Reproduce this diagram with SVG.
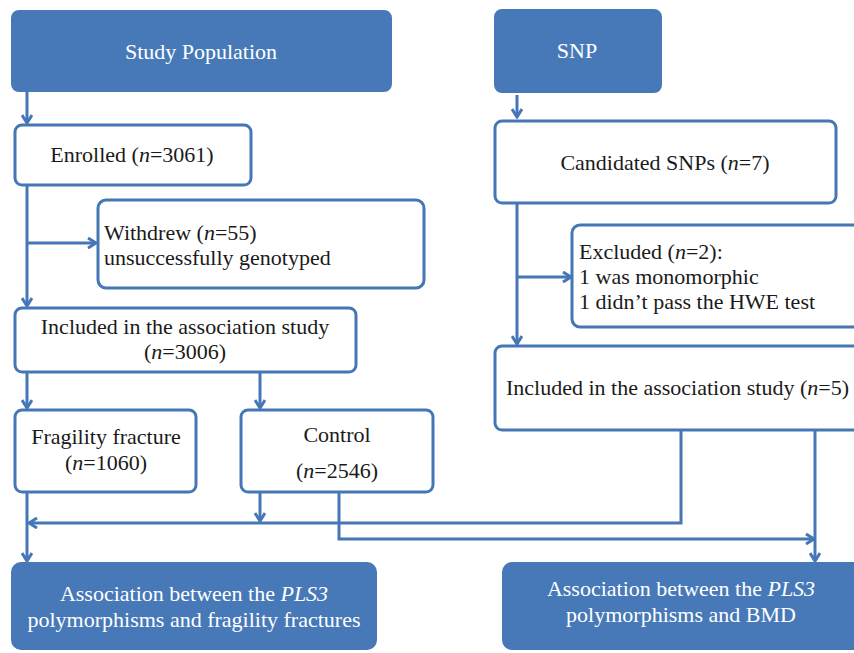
<svg xmlns="http://www.w3.org/2000/svg" width="854" height="653" viewBox="0 0 854 653">
<defs>
<style>
.hd{fill:#4779B8;stroke:#4779B8;stroke-width:2}
.bx{fill:#fff;stroke:#4577B6;stroke-width:3}
.t{fill:#1a1a1a}
.w{fill:#fff}
.c{fill:none;stroke:#4577B6;stroke-width:3}
</style>
<marker id="ah" viewBox="0 0 12 12" markerWidth="12" markerHeight="12" refX="10" refY="6" orient="auto" markerUnits="userSpaceOnUse">
<path d="M2,1 L10,6 L2,11" fill="none" stroke="#4577B6" stroke-width="3"/>
</marker>
</defs>
<rect width="854" height="653" fill="#fff"/>
<g id="connectors">
<path class="c" d="M27,91 V123" marker-end="url(#ah)"/>
<path class="c" d="M517,95 V117" marker-end="url(#ah)"/>
<path class="c" d="M27,185 V306" marker-end="url(#ah)"/>
<path class="c" d="M27,243 H96" marker-end="url(#ah)"/>
<path class="c" d="M517,203 V344" marker-end="url(#ah)"/>
<path class="c" d="M517,277 H571" marker-end="url(#ah)"/>
<path class="c" d="M27,372 V408" marker-end="url(#ah)"/>
<path class="c" d="M260,372 V408" marker-end="url(#ah)"/>
<path class="c" d="M260,492 V521" marker-end="url(#ah)"/>
<path class="c" d="M681,430 V523 H29" marker-end="url(#ah)"/>
<path class="c" d="M27,492 V561" marker-end="url(#ah)"/>
<path class="c" d="M339,492 V539 H814" marker-end="url(#ah)"/>
<path class="c" d="M815,430 V561" marker-end="url(#ah)"/>
</g>
<g font-family="Liberation Serif, Times New Roman, serif" font-size="22">
<g id="study-population">
<rect class="hd" x="12" y="11" width="379" height="80" rx="7"/>
<text class="w" x="201" y="59" text-anchor="middle">Study Population</text>
</g>
<g id="snp">
<rect class="hd" x="495" y="10" width="166" height="82" rx="7"/>
<text class="w" x="577" y="58" text-anchor="middle">SNP</text>
</g>
<g id="enrolled">
<rect class="bx" x="15" y="125" width="236" height="60" rx="7"/>
<text class="t" x="132" y="162" text-anchor="middle">Enrolled (<tspan font-style="italic">n</tspan>=3061)</text>
</g>
<g id="candidated">
<rect class="bx" x="495" y="121" width="341" height="82" rx="7"/>
<text class="t" x="665" y="170" text-anchor="middle">Candidated SNPs (<tspan font-style="italic">n</tspan>=7)</text>
</g>
<g id="withdrew">
<rect class="bx" x="98" y="200" width="326" height="88" rx="8"/>
<text class="t" x="104" y="240">Withdrew (<tspan font-style="italic">n</tspan>=55)</text>
<text class="t" x="104" y="265">unsuccessfully genotyped</text>
</g>
<g id="excluded">
<rect class="bx" x="572" y="225" width="300" height="102" rx="8"/>
<text class="t" x="579" y="259">Excluded (<tspan font-style="italic">n</tspan>=2):</text>
<text class="t" x="579" y="284">1 was monomorphic</text>
<text class="t" x="579" y="309">1 didn’t pass the HWE test</text>
</g>
<g id="included-pop">
<rect class="bx" x="15" y="308" width="341" height="64" rx="7"/>
<text class="t" x="185" y="334" text-anchor="middle">Included in the association study</text>
<text class="t" x="185" y="359" text-anchor="middle">(<tspan font-style="italic">n</tspan>=3006)</text>
</g>
<g id="included-snp">
<rect class="bx" x="495" y="346" width="380" height="84" rx="7"/>
<text class="t" x="506" y="395">Included in the association study (<tspan font-style="italic">n</tspan>=5)</text>
</g>
<g id="fragility">
<rect class="bx" x="15" y="410" width="181" height="82" rx="7"/>
<text class="t" x="106" y="444" text-anchor="middle">Fragility fracture</text>
<text class="t" x="106" y="470" text-anchor="middle">(<tspan font-style="italic">n</tspan>=1060)</text>
</g>
<g id="control">
<rect class="bx" x="241" y="410" width="192" height="82" rx="7"/>
<text class="t" x="337" y="442" text-anchor="middle">Control</text>
<text class="t" x="337" y="478" text-anchor="middle">(<tspan font-style="italic">n</tspan>=2546)</text>
</g>
<g id="assoc-fracture">
<rect class="hd" x="12" y="563" width="364" height="86" rx="9"/>
<text class="w" x="194" y="601" text-anchor="middle">Association between the <tspan font-style="italic">PLS3</tspan></text>
<text class="w" x="194" y="627" text-anchor="middle">polymorphisms and fragility fractures</text>
</g>
<g id="assoc-bmd">
<rect class="hd" x="503" y="563" width="360" height="86" rx="9"/>
<text class="w" x="681" y="596" text-anchor="middle">Association between the <tspan font-style="italic">PLS3</tspan></text>
<text class="w" x="681" y="622" text-anchor="middle">polymorphisms and BMD</text>
</g>
</g>
</svg>
